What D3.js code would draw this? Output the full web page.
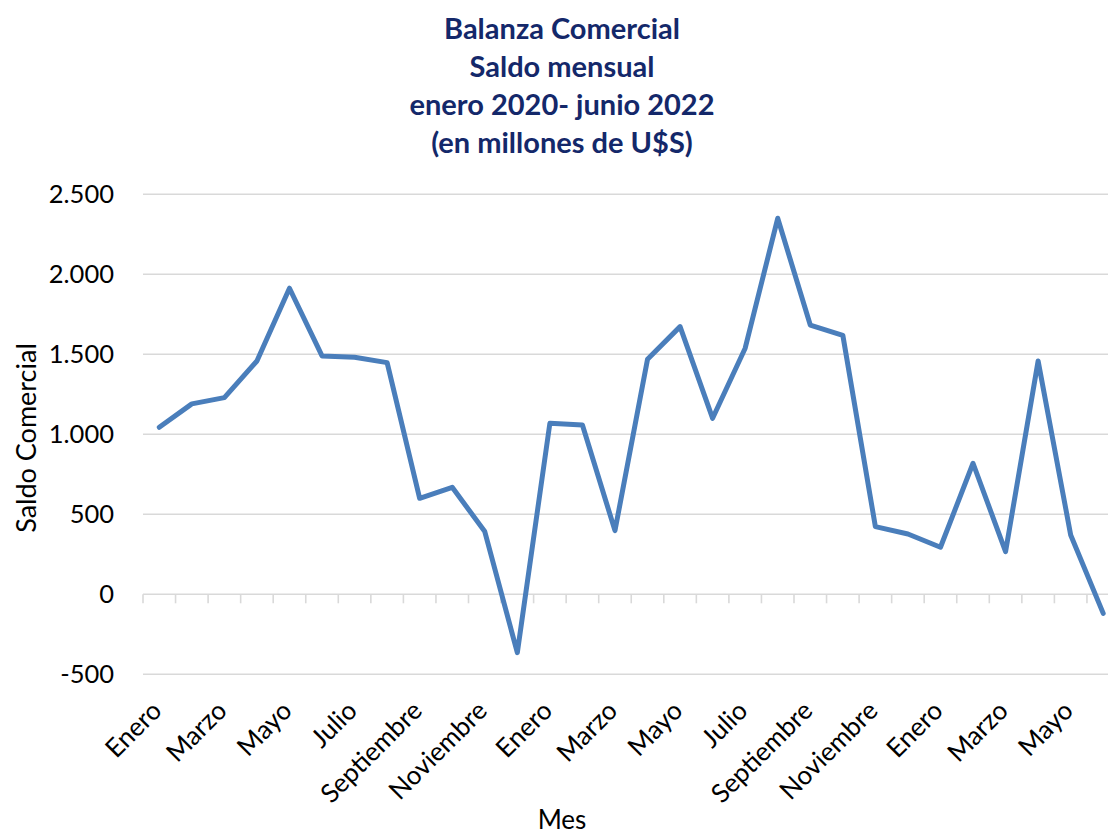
<!DOCTYPE html>
<html><head><meta charset="utf-8">
<script src="https://cdn.jsdelivr.net/npm/d3@7"></script>
<style>body{margin:0;background:#fff;} svg{display:block;}</style>
</head><body>
<svg id="c" width="1108" height="835"></svg>
<script>
const months = ["Enero","Febrero","Marzo","Abril","Mayo","Junio","Julio","Agosto","Septiembre","Octubre","Noviembre","Diciembre",
"Enero","Febrero","Marzo","Abril","Mayo","Junio","Julio","Agosto","Septiembre","Octubre","Noviembre","Diciembre",
"Enero","Febrero","Marzo","Abril","Mayo","Junio"];
const saldo = [1044,1190,1229,1458,1913,1490,1481,1448,600,669,392,-365,
1069,1058,398,1469,1673,1100,1538,2350,1683,1619,423,377,
294,819,267,1458,371,-119];
const yTicks = [-500,0,500,1000,1500,2000,2500];
const titleLines = ["Balanza Comercial","Saldo mensual","enero 2020- junio 2022","(en millones de U$S)"];

const svg = d3.select("#c");
const font = "Lato, 'Open Sans', sans-serif";
const idx = d3.range(months.length);
const x = d3.scaleBand().domain(idx).range([143, 143 + 32.55*30]);
const y = d3.scaleLinear().domain([-500,2500]).range([674.3,194.3]);

// title
svg.append("g").selectAll("text").data(titleLines).join("text")
  .attr("x",562).attr("y",(d,i)=>39+i*38)
  .attr("text-anchor","middle").attr("fill","#14286A")
  .attr("font-family",font).attr("font-weight","bold").attr("font-size",29)
  .text(d=>d);

// gridlines
svg.append("g").selectAll("line").data(yTicks).join("line")
  .attr("x1",143).attr("x2",1108).attr("y1",d=>y(d)).attr("y2",d=>y(d))
  .attr("stroke","#D9D9D9").attr("stroke-width",1.6);

// y labels
svg.append("g").selectAll("text").data(yTicks).join("text")
  .attr("x",114).attr("y",d=>y(d)+9).attr("text-anchor","end")
  .attr("font-family",font).attr("font-size",25.5).attr("fill","#000")
  .text(d=>(d<0?"-":"")+d3.format(",")(Math.abs(d)).replace(/,/g,"."));

// category tick marks on zero line
const bounds = d3.range(months.length+1).map(i=>143+i*x.bandwidth());
svg.append("g").selectAll("line").data(bounds).join("line")
  .attr("x1",d=>d).attr("x2",d=>d).attr("y1",y(0)).attr("y2",y(0)+9)
  .attr("stroke","#D9D9D9").attr("stroke-width",1.6);

// line
const line = d3.line().x((d,i)=>x(i)+x.bandwidth()/2).y(d=>y(d));
svg.append("path").datum(saldo).attr("d",line)
  .attr("fill","none").attr("stroke","#4A7EBB").attr("stroke-width",5)
  .attr("stroke-linejoin","round").attr("stroke-linecap","round");

// x labels every other
svg.append("g").selectAll("text").data(idx.filter(i=>i%2===0)).join("text")
  .attr("transform",i=>`translate(${x(i)+x.bandwidth()/2+4},${y(-500)+38}) rotate(-45)`)
  .attr("text-anchor","end")
  .attr("font-family",font).attr("font-size",26).attr("fill","#000")
  .text(i=>months[i]);

// axis titles
svg.append("text").attr("transform","translate(36,438) rotate(-90)")
  .attr("text-anchor","middle").attr("font-family",font).attr("font-size",27)
  .text("Saldo Comercial");
svg.append("text").attr("x",562).attr("y",829).attr("text-anchor","middle")
  .attr("font-family",font).attr("font-size",26).text("Mes");
</script>
</body></html>
